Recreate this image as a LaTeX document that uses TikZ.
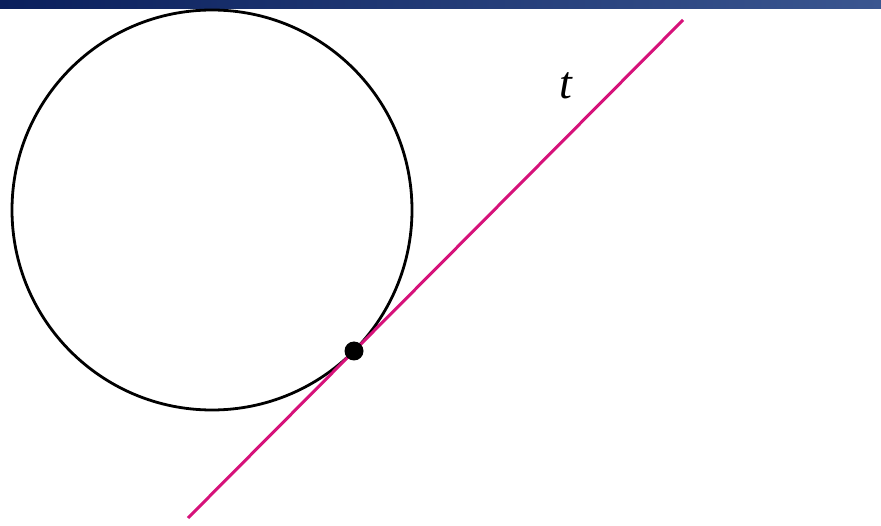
\documentclass[tikz,border=0pt]{standalone}
\usepackage{fontspec}
\newfontfamily\lserif{Liberation Serif}
\definecolor{barL}{HTML}{0A1F5C}
\definecolor{barR}{HTML}{3A5690}
\definecolor{tang}{HTML}{D6127A}
\begin{document}
\begin{tikzpicture}[x=1pt,y=-1pt,
  circ/.style={draw=black,line width=2.8pt},
  tline/.style={draw=tang,line width=3pt},
  pt/.style={circle,fill=black,inner sep=0pt,minimum size=19pt},
  lbl/.style={font=\lserif\itshape\fontsize{46}{46}\selectfont,inner sep=0pt}]
\useasboundingbox (0,0) rectangle (881,526);
\shade[left color=barL,right color=barR] (0,0) rectangle (881,9);
\coordinate (c) at (212,210);
\draw[circ] (c) circle[radius=200];
\coordinate (a) at (188,518);
\coordinate (b) at (683,20);
\draw[tline] (a) -- (b);
\node[pt] (p) at (354,351) {};
\node[lbl] (t) at (566,86) {t};
\end{tikzpicture}
\end{document}
